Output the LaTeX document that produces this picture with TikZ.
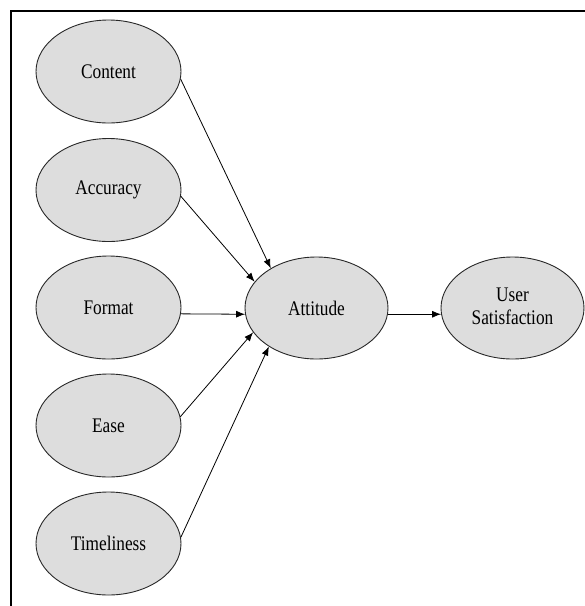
\documentclass[tikz,border=0pt]{standalone}
\usepackage{fontspec}
\setmainfont{Liberation Serif}
\usetikzlibrary{shapes.geometric,arrows.meta}
\definecolor{ellfill}{RGB}{221,221,221}
\definecolor{ellline}{RGB}{40,40,40}
\newcommand{\stretchtext}[1]{\raisebox{-2pt}{\scalebox{1}[1.2]{#1}}}
\begin{document}
\begin{tikzpicture}[x=1pt,y=-1pt,
  construct/.style={ellipse,draw=ellline,line width=0.9pt,fill=ellfill,
    minimum width=145pt,minimum height=103pt,inner sep=0pt,
    font=\fontsize{17.3}{20}\selectfont},
  link/.style={line width=0.8pt,-{Latex[length=9pt,width=7pt]}}]
\useasboundingbox (0,0) rectangle (585,606);
\coordinate (ftl) at (11,11);
\coordinate (ftr) at (585,11);
\coordinate (fbl) at (11,606);
\draw[line width=1.2pt] (ftr) -- (ftl) -- (fbl);
\node[construct] (content) at (108.5,71.5) {\stretchtext{Content}};
\node[construct] (accuracy) at (108.5,190) {\stretchtext{Accuracy}};
\node[construct] (format) at (108.5,307.5) {\stretchtext{Format}};
\node[construct] (ease) at (108.5,425.5) {\stretchtext{Ease}};
\node[construct] (time) at (108.5,543.5) {\stretchtext{Timeliness}};
\node[construct,minimum width=143pt,minimum height=102pt] (att) at (316.5,308) {\stretchtext{Attitude}};
\node[construct,minimum width=143pt,minimum height=102pt] (us) at (512.5,308) {\scalebox{1}[1.2]{\begin{tabular}{@{}c@{}}User\\[-1pt]Satisfaction\end{tabular}}};
\draw[link] (content.-6) -- (att.139);
\draw[link] (accuracy.-5) -- (att.157);
\draw[link] (format.-5) -- (att.185);
\draw[link] (ease.7) -- (att.201);
\draw[link] (time.5) -- (att.219);
\draw[link] (att.-5) -- (us.185);
\end{tikzpicture}
\end{document}
